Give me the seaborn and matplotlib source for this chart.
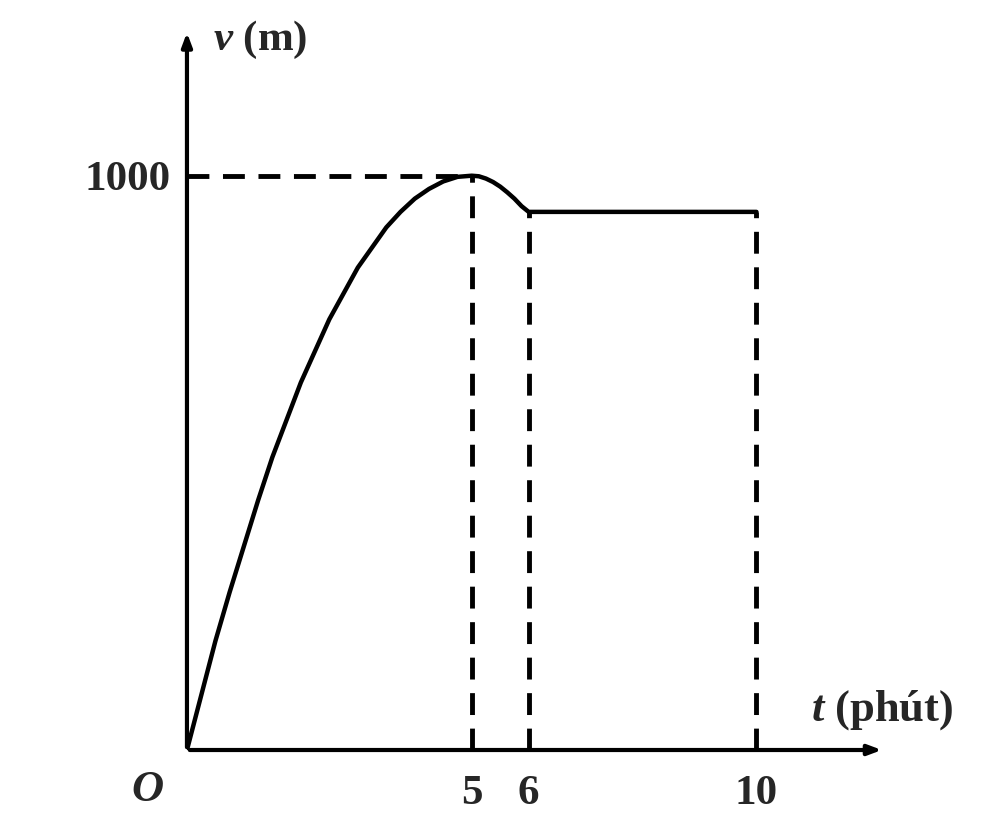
import numpy as np
import pandas as pd
import seaborn as sns
import matplotlib.pyplot as plt

# values
t_vals = [0, 0.25, 0.5, 0.75, 1, 1.25, 1.5, 1.75, 2, 2.25, 2.5, 2.75, 3, 3.25, 3.5,
          3.75, 4, 4.25, 4.5, 4.75, 5, 5.125, 5.25, 5.375, 5.5, 5.625, 5.75, 5.875, 6, 10]
v_vals = [0, 95, 190, 275, 355, 435, 510, 575, 640, 695, 750, 795, 840, 875, 910,
          937, 960, 977, 990, 998, 1000, 999, 995, 989, 981, 971, 960, 947, 937, 937]
xtick_vals = [5, 6, 10]
xtick_labels = ['5', '6', '10']
ytick_vals = [1000]
ytick_labels = ['1000']
peak_t, peak_v = 5, 1000
flat_t = [6, 10]
flat_v = 937

df = pd.DataFrame({'t': t_vals, 'v': v_vals})

sns.set_style("white")
plt.rcParams['font.family'] = ['Liberation Serif', 'DejaVu Serif']
plt.rcParams['font.weight'] = 'bold'
plt.rcParams['mathtext.fontset'] = 'custom'
plt.rcParams['mathtext.it'] = 'Liberation Serif:italic:bold'
plt.rcParams['mathtext.rm'] = 'Liberation Serif:bold'

fig = plt.figure(figsize=(9.84, 8.24), dpi=100)
ax = fig.add_axes([0.190, 0.0898, 0.709, 0.874])

sns.lineplot(data=df, x='t', y='v', color='black', lw=3.2, ax=ax, sort=False)

dash = dict(color='black', lw=3.5, linestyle=(0, (4.5, 2.8)))
ax.plot([0, peak_t], [peak_v, peak_v], **dash)
ax.plot([peak_t, peak_t], [0, peak_v], **dash)
for tt in flat_t:
    ax.plot([tt, tt], [0, flat_v], **dash)

ax.set_xlim(0, 12.25)
ax.set_ylim(0, 1254)
for s in ax.spines.values():
    s.set_visible(False)

# axes with arrows
arrow = dict(arrowstyle='-|>,head_length=0.8,head_width=0.3', lw=3, color='black')
ax.annotate('', xy=(1, 0), xytext=(0, 0), xycoords='axes fraction', arrowprops=arrow)
ax.annotate('', xy=(0, 1), xytext=(0, 0), xycoords='axes fraction', arrowprops=arrow)

ax.set_xticks(xtick_vals)
ax.set_xticklabels(xtick_labels, fontsize=31, fontweight='bold')
ax.set_yticks(ytick_vals)
ax.set_yticklabels(ytick_labels, fontsize=31, fontweight='bold')
ax.tick_params(axis='x', length=0, pad=18)
ax.tick_params(axis='y', length=0, pad=12)
ax.set_xlabel('')
ax.set_ylabel('')

ax.text(-0.7, -70, 'O', fontsize=32, fontstyle='italic', fontweight='bold',
        ha='center', va='center', clip_on=False)
ax.text(0.45, 1237, r'$v$ (m)', fontsize=31, fontweight='bold',
        ha='left', va='center', clip_on=False)
ax.text(10.95, 70, r'$t$ (phút)', fontsize=32, fontweight='bold',
        ha='left', va='center', clip_on=False)

fig.savefig('out.png', dpi=100, facecolor='white')
